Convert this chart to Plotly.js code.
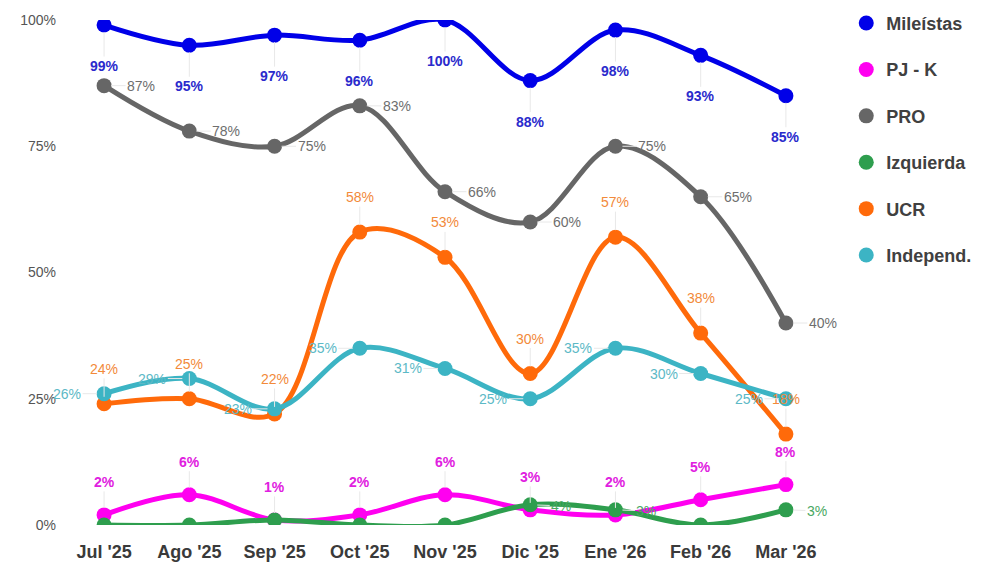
<!DOCTYPE html>
<html>
<head>
<meta charset="utf-8">
<script src="https://cdn.plot.ly/plotly-3.0.1.min.js"></script>
<style>html,body{margin:0;padding:0;background:#fff;}#chart{width:981px;height:564px;}</style>
</head>
<body>
<div id="chart"></div>
<script>
var months = ["Jul '25", "Ago '25", "Sep '25", "Oct '25", "Nov '25", "Dic '25", "Ene '26", "Feb '26", "Mar '26"];
var seriesNames = ["Mileístas", "PJ - K", "PRO", "Izquierda", "UCR", "Independ."];
var mileistas = [99, 95, 97, 96, 100, 88, 98, 93, 85];
var pjk = [2, 6, 1, 2, 6, 3, 2, 5, 8];
var pro = [87, 78, 75, 83, 66, 60, 75, 65, 40];
var izquierda = [0, 0, 1, 0, 0, 4, 3, 0, 3];
var ucr = [24, 25, 22, 58, 53, 30, 57, 38, 18];
var independ = [26, 29, 23, 35, 31, 25, 35, 30, 25];
var yTicks = [0, 25, 50, 75, 100];
var yTickText = ["0%", "25%", "50%", "75%", "100%"];

var values = [mileistas, pjk, pro, izquierda, ucr, independ];
var lineColors = ["#0000e8", "#ff00f0", "#666666", "#2e9e4e", "#ff6a0a", "#3cb4c4"];
var labelColors = ["#2a2acc", "#e020e0", "#6e6e6e", "#4aa862", "#f28a3a", "#5cb9c6"];
var labelBold = [true, true, false, false, false, false];
var labelOffset = [[0, 41], [0, -33], [37, 0], [31, 1], [0, -35], [-37, 0]];
var labelMin = [0, 0, 0, 2, 0, 0];

var traces = [];
var annotations = [];
for (var s = 0; s < values.length; s++) {
  traces.push({
    type: 'scatter', mode: 'lines+markers', x: months, y: values[s],
    name: seriesNames[s], showlegend: false,
    line: {color: lineColors[s], width: 5, shape: 'spline', smoothing: 1},
    marker: {color: lineColors[s], size: 15},
    hoverinfo: 'x+y'
  });
  for (var i = 0; i < months.length; i++) {
    var v = values[s][i];
    if (v < labelMin[s]) continue;
    annotations.push({
      x: months[i], y: v, xref: 'x', yref: 'y',
      text: labelBold[s] ? '<b>' + v + '%</b>' : v + '%',
      showarrow: true, arrowhead: 0, arrowwidth: 1, arrowcolor: '#e8e8e8',
      standoff: 7, ax: labelOffset[s][0], ay: labelOffset[s][1],
      font: {family: 'Liberation Sans, Arial, sans-serif', size: 14, color: labelColors[s]}
    });
  }
}
for (var s2 = 0; s2 < seriesNames.length; s2++) {
  traces.push({
    type: 'scatter', mode: 'markers', x: [null], y: [null],
    name: seriesNames[s2], legendgroup: 'g' + s2,
    marker: {color: lineColors[s2], size: 15}, hoverinfo: 'skip'
  });
}

var layout = {
  width: 981, height: 564,
  margin: {l: 70, r: 161, t: 20, b: 39, autoexpand: false},
  paper_bgcolor: '#ffffff', plot_bgcolor: '#ffffff',
  font: {family: 'Liberation Sans, Arial, sans-serif'},
  xaxis: {
    type: 'category', range: [-0.4, 8.4], showgrid: false, zeroline: false, showline: false,
    ticks: '', ticklabelstandoff: 14,
    tickfont: {family: 'Liberation Sans, Arial, sans-serif', size: 18, color: '#3a3a3a', weight: 'bold'}
  },
  yaxis: {
    range: [0, 100], tickvals: yTicks, ticktext: yTickText, showgrid: false, zeroline: false,
    showline: false, ticks: '', ticklabelstandoff: 13,
    tickfont: {family: 'Liberation Sans, Arial, sans-serif', size: 14, color: '#555555'}
  },
  showlegend: true,
  legend: {
    x: 1.035, xanchor: 'left', y: 1.03, yanchor: 'top',
    traceorder: 'grouped', tracegroupgap: 20,
    font: {family: 'Liberation Sans, Arial, sans-serif', size: 18, color: '#404040', weight: 'bold'},
    bgcolor: 'rgba(0,0,0,0)'
  },
  annotations: annotations
};

Plotly.newPlot('chart', traces, layout, {displayModeBar: false, staticPlot: true});
</script>
</body>
</html>
